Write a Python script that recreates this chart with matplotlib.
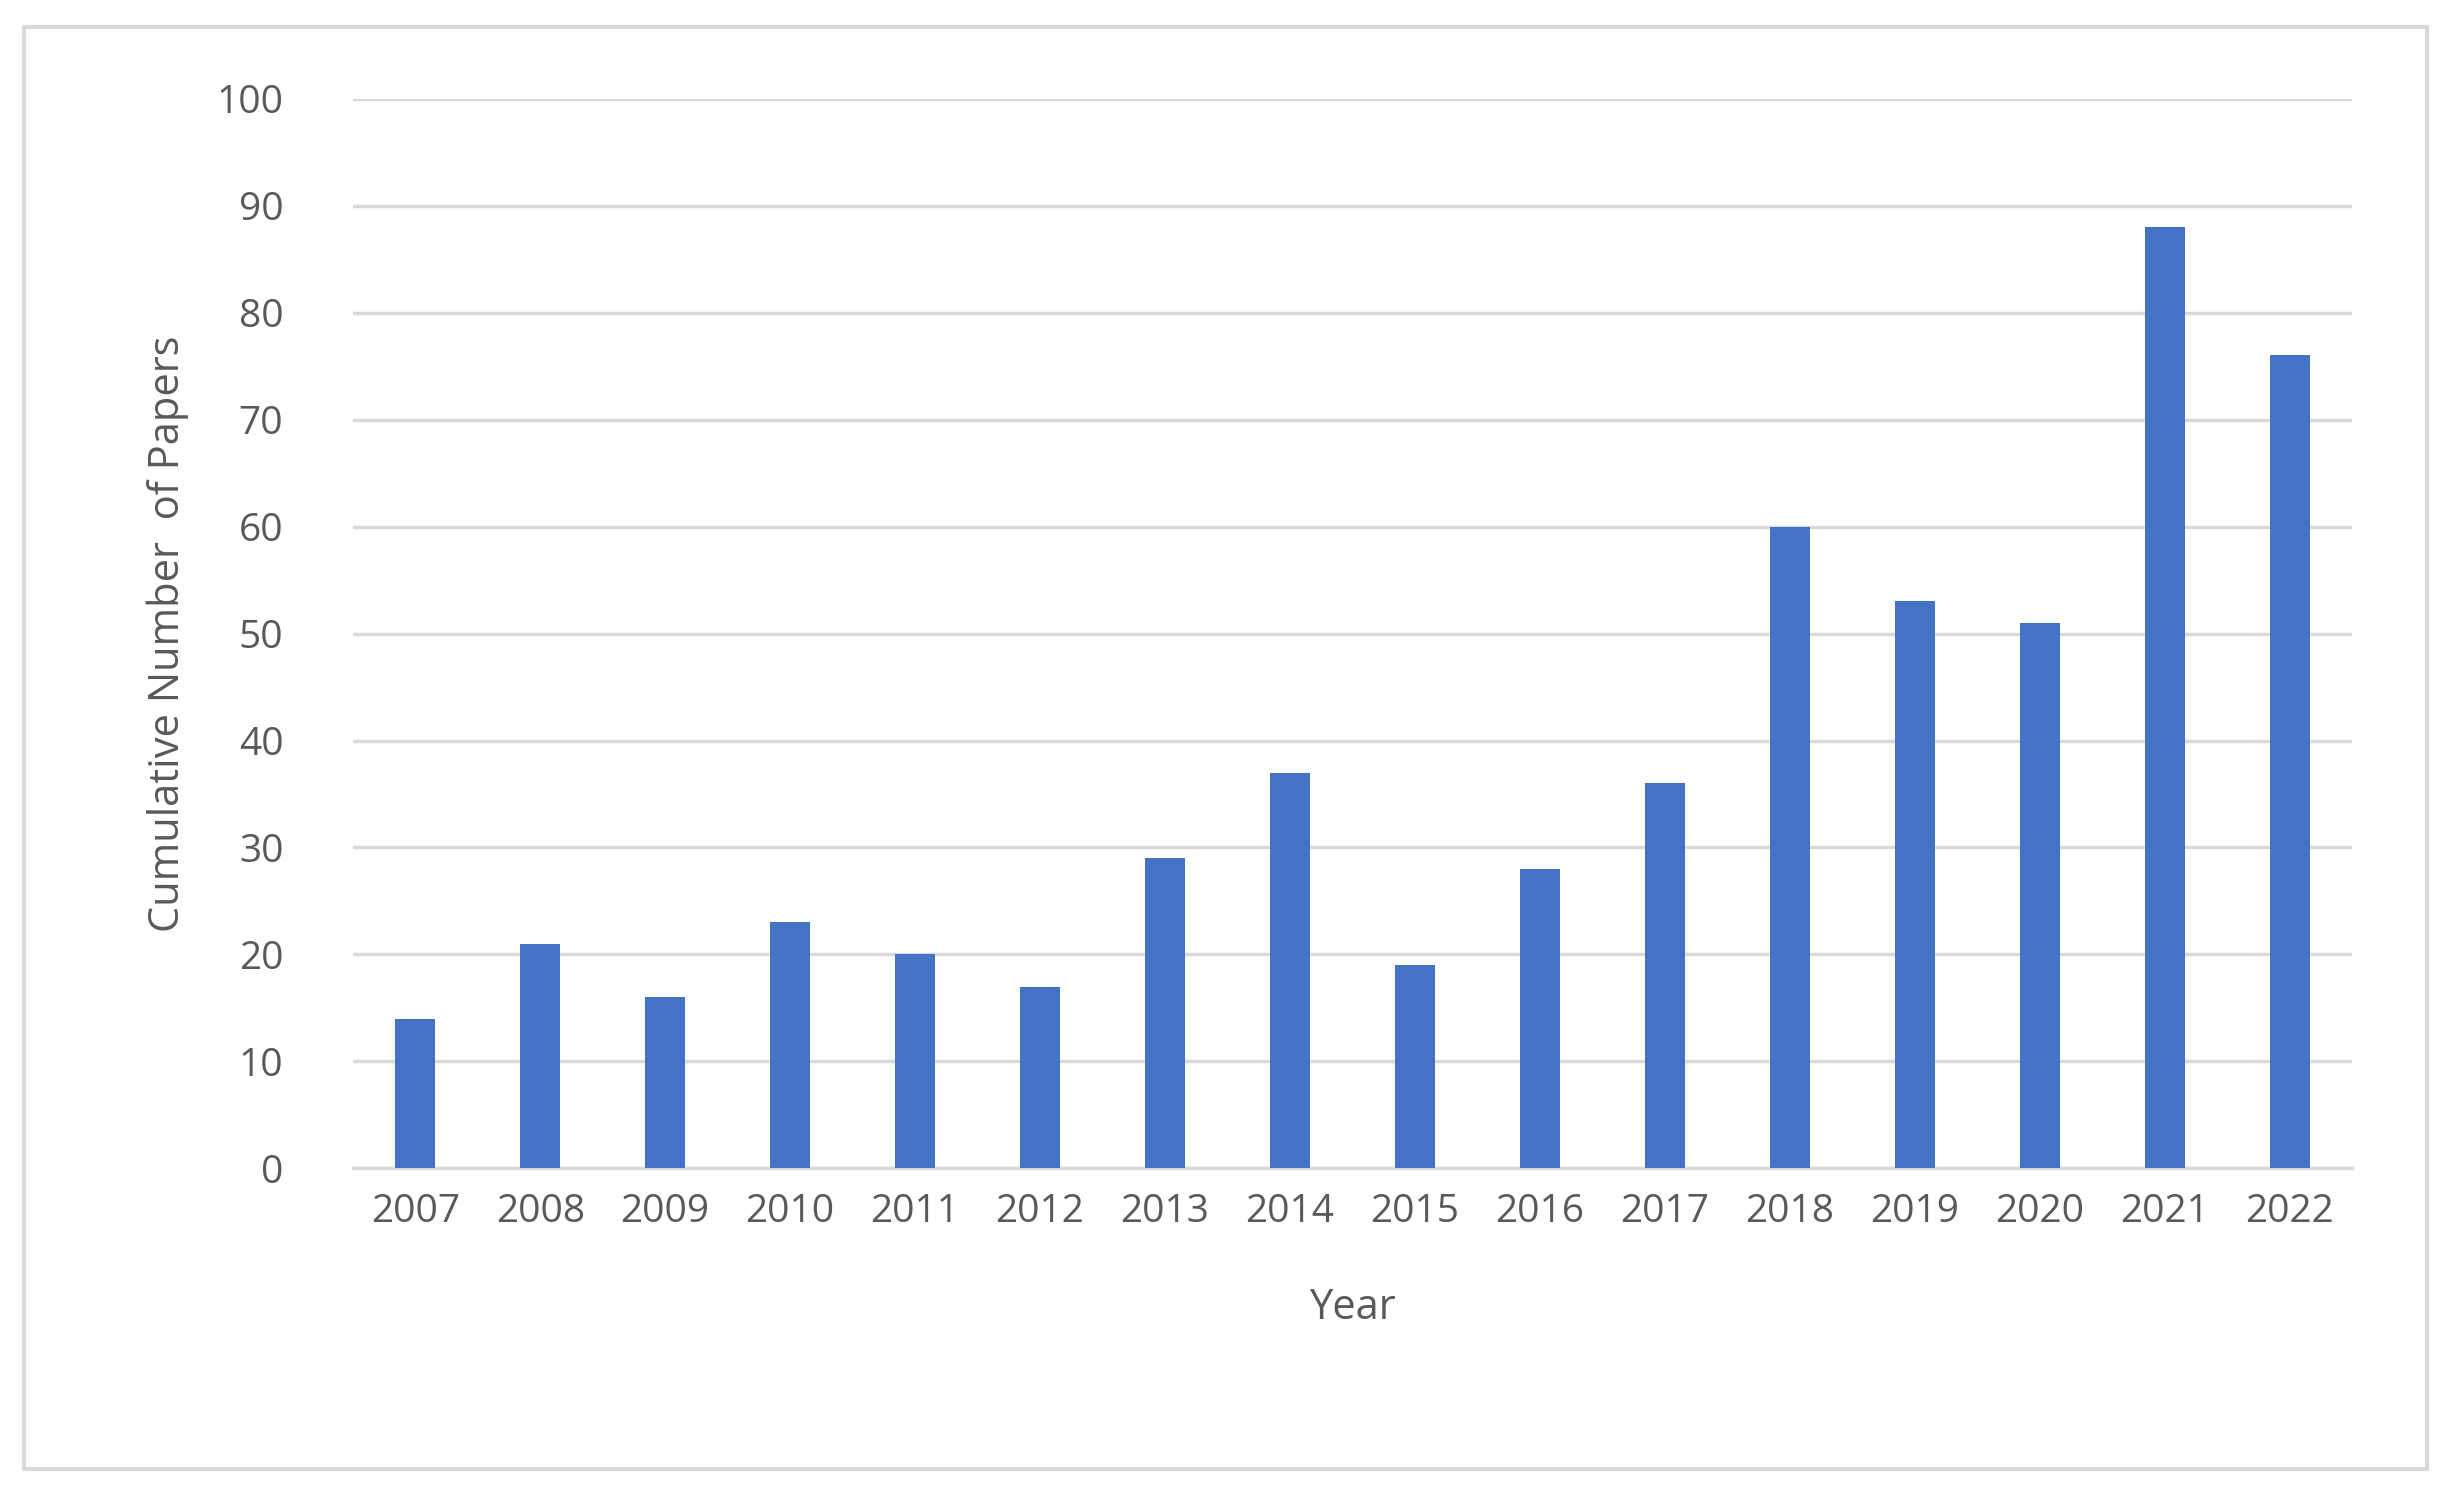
import matplotlib
matplotlib.use("Agg")
import matplotlib.pyplot as plt
from matplotlib.patches import Rectangle

years = ["2007", "2008", "2009", "2010", "2011", "2012", "2013", "2014",
         "2015", "2016", "2017", "2018", "2019", "2020", "2021", "2022"]
papers = [14, 21, 16, 23, 20, 17, 29, 37, 19, 28, 36, 60, 53, 51, 88, 76]

BLUE = "#4472C4"
GRAY = "#595959"
GRID = "#D9D9D9"

plt.rcParams["font.family"] = ["Open Sans", "DejaVu Sans"]

fig = plt.figure(figsize=(24.5, 14.96), dpi=100)
fig.patch.set_facecolor("white")
fig.patches.append(Rectangle((0.0096, 0.018), 0.981, 0.964, transform=fig.transFigure,
                             fill=False, edgecolor=GRID, linewidth=3))

ax = fig.add_axes([0.144, 0.219, 0.816, 0.715])
x = range(len(years))
ax.bar(x, papers, width=0.32, color=BLUE, zorder=3)

ax.set_ylim(0, 100)
ax.set_yticks(range(0, 101, 10))
ax.set_xlim(-0.5, len(years) - 0.5)
ax.set_xticks(list(x))
ax.set_xticklabels(years)
ax.grid(axis="y", color=GRID, linewidth=2.5, zorder=0)
for s in ["top", "right", "left"]:
    ax.spines[s].set_visible(False)
ax.spines["bottom"].set_color(GRID)
ax.spines["bottom"].set_linewidth(2.5)
ax.tick_params(length=0, labelsize=28, colors=GRAY, pad=18)
ax.tick_params(axis="y", pad=50)

ax.set_xlabel("Year", fontsize=30, color=GRAY, labelpad=40)
ax.set_ylabel("Cumulative Number  of Papers", fontsize=30, color=GRAY, labelpad=20)

fig.savefig("out.png", facecolor="white")
